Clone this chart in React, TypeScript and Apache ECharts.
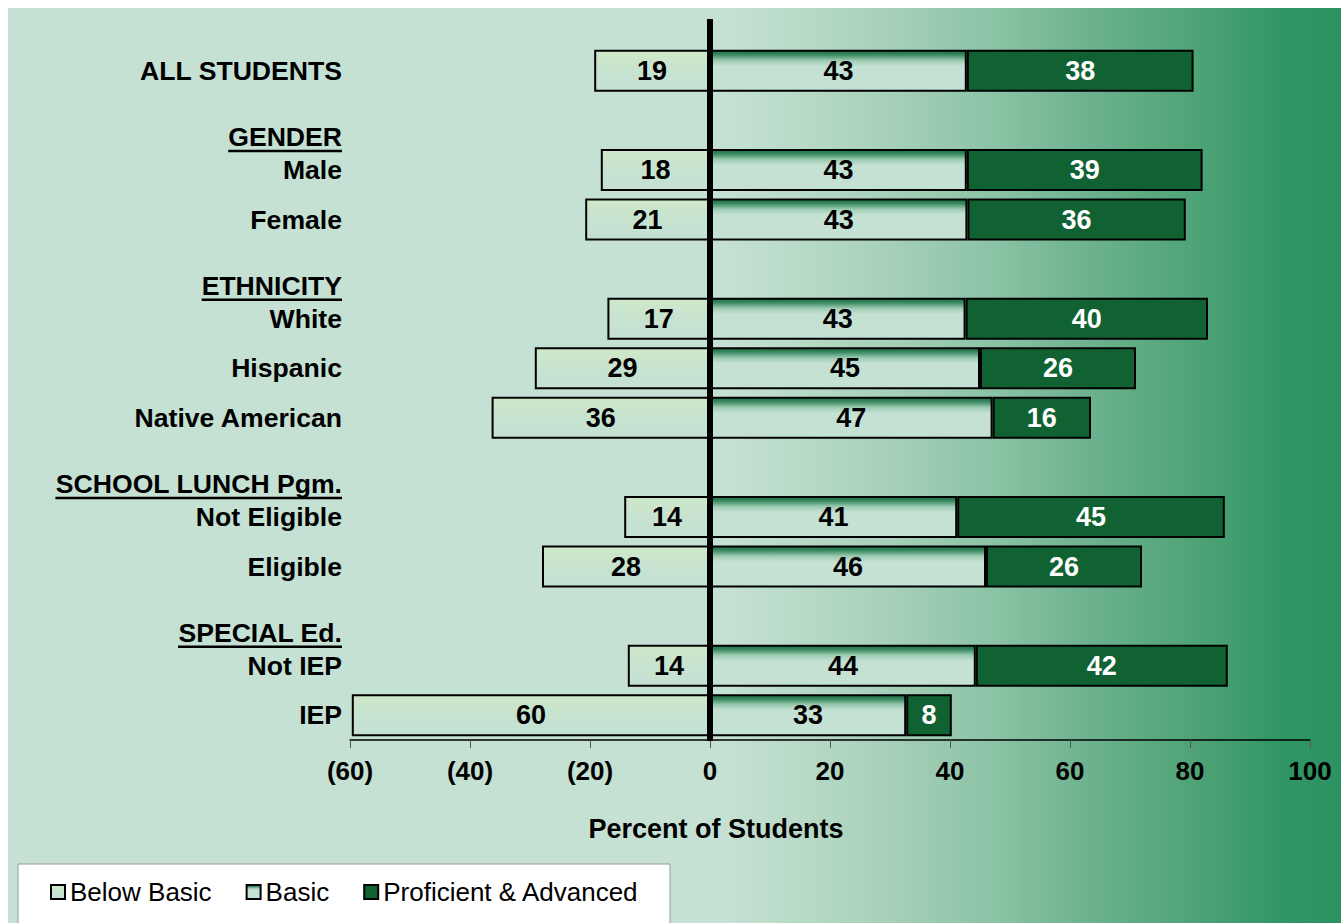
import React, { useEffect, useRef } from "react";
import * as echarts from "echarts";

const categories = [
  "ALL STUDENTS",
  "GENDER",
  "Male",
  "Female",
  "ETHNICITY",
  "White",
  "Hispanic",
  "Native American",
  "SCHOOL LUNCH Pgm.",
  "Not Eligible",
  "Eligible",
  "SPECIAL Ed.",
  "Not IEP",
  "IEP",
];
const headers = ["GENDER", "ETHNICITY", "SCHOOL LUNCH Pgm.", "SPECIAL Ed."];

// Below Basic drawn to the left of zero (negative values)
const belowBasic = [-19.3, null, -18.2, -20.8, null, -17.1, -29.2, -36.4, null, -14.3, -28.0, null, -13.7, -59.7];
const basic = [42.8, null, 42.8, 42.9, null, 42.6, 45.0, 47.1, null, 41.2, 46.0, null, 44.3, 32.7];
const proficient = [37.8, null, 39.3, 36.4, null, 40.4, 26.0, 16.4, null, 44.6, 26.0, null, 42.0, 7.6];

const xMin = -60;
const xMax = 100;
const xInterval = 20;

const FONT = "'Liberation Sans', Arial, Helvetica, sans-serif";
const W = 1333;
const H = 915;
const GRID = { left: 342, right: 31, top: 38, bottom: 183 };
const FS = 27;
const CAT_FS = 26.6;

export default function App() {
  const ref = useRef<HTMLDivElement>(null);

  useEffect(() => {
    if (!ref.current) return;
    const chart = echarts.init(ref.current, null, { renderer: "svg" });

    const labelFmt = (p: any) =>
      p.value == null || p.value === "-" ? "" : String(Math.round(Math.abs(p.value)));

    const option: any = {
      animation: false,
      backgroundColor: "transparent",
      grid: { ...GRID, containLabel: false },
      legend: {
        left: 10,
        top: 856,
        orient: "horizontal",
        backgroundColor: "#ffffff",
        borderColor: "#9a9a9a",
        borderWidth: 1,
        padding: [15, 31, 40, 32],
        itemWidth: 14,
        itemHeight: 14,
        itemGap: 34,
        icon: "rect",
        textStyle: { fontSize: 26, color: "#000", fontFamily: FONT },
        data: ["Below Basic", "Basic", "Proficient & Advanced"],
      },
      xAxis: {
        type: "value",
        min: xMin,
        max: xMax,
        interval: xInterval,
        name: "Percent of Students",
        nameLocation: "middle",
        nameGap: 75,
        nameTextStyle: {
          fontSize: FS,
          fontWeight: "bold",
          color: "#000",
          fontFamily: FONT,
          padding: [0, 228, 0, 0],
        },
        axisLine: { show: true, onZero: false, lineStyle: { color: "#000", width: 1.5 } },
        axisTick: { show: true, length: 8, lineStyle: { color: "#555", width: 1 } },
        splitLine: { show: false },
        axisLabel: {
          margin: 18,
          fontSize: 26,
          fontWeight: "bold",
          color: "#000",
          fontFamily: FONT,
          formatter: (v: number) => (v < 0 ? `(${-v})` : String(v)),
        },
      },
      yAxis: {
        type: "category",
        data: categories,
        inverse: true,
        axisLine: { show: false },
        axisTick: { show: false },
        splitLine: { show: false },
        axisLabel: {
          interval: 0,
          margin: 8,
          formatter: (v: string) => (headers.includes(v) ? `{h|${v}}` : `{c|${v}}`),
          rich: {
            c: { fontSize: CAT_FS, fontWeight: "bold", color: "#000", fontFamily: FONT },
            h: { fontSize: CAT_FS, fontWeight: "bold", color: "#000", fontFamily: FONT, padding: [34, 0, 0, 0] },
          },
        },
      },
      series: [
        {
          name: "Below Basic",
          type: "bar",
          stack: "total",
          barWidth: 42,
          data: belowBasic,
          itemStyle: {
            color: new echarts.graphic.LinearGradient(0, 0, 0, 1, [
              { offset: 0, color: "#cfe8c8" },
              { offset: 0.5, color: "#c7e3d0" },
              { offset: 1, color: "#c4e0d4" },
            ]),
            borderColor: "#000",
            borderWidth: 2,
          },
          label: {
            show: true,
            position: "inside",
            formatter: labelFmt,
            fontSize: FS,
            fontWeight: "bold",
            color: "#000",
            fontFamily: FONT,
          },
        },
        {
          name: "Basic",
          type: "bar",
          stack: "total",
          barWidth: 42,
          data: basic,
          itemStyle: {
            color: new echarts.graphic.LinearGradient(0, 0, 0, 1, [
              { offset: 0, color: "#1d6e45" },
              { offset: 0.1, color: "#3a8a61" },
              { offset: 0.24, color: "#9bcab1" },
              { offset: 0.38, color: "#c5e1d4" },
              { offset: 1, color: "#c5e1d4" },
            ]),
            borderColor: "#000",
            borderWidth: 2,
          },
          label: {
            show: true,
            position: "inside",
            formatter: labelFmt,
            fontSize: FS,
            fontWeight: "bold",
            color: "#000",
            fontFamily: FONT,
          },
        },
        {
          name: "Proficient & Advanced",
          type: "bar",
          stack: "total",
          barWidth: 42,
          data: proficient,
          itemStyle: { color: "#116233", borderColor: "#000", borderWidth: 2 },
          label: {
            show: true,
            position: "inside",
            formatter: labelFmt,
            fontSize: FS,
            fontWeight: "bold",
            color: "#fff",
            fontFamily: FONT,
          },
        },
      ],
    };

    chart.setOption(option);

    // Additional drawn elements derived from the axes
    const canvas = document.createElement("canvas");
    const ctx = canvas.getContext("2d");
    if (ctx) ctx.font = `bold ${CAT_FS}px ${FONT}`;
    const zeroX = chart.convertToPixel({ xAxisIndex: 0 }, 0) as number;
    const gridBottomY = H - GRID.bottom;
    const labelRight = GRID.left - 8;

    const graphics: any[] = [
      {
        type: "line",
        z: 100,
        shape: { x1: zeroX, y1: 11, x2: zeroX, y2: gridBottomY + 1 },
        style: { stroke: "#000", lineWidth: 6 },
      },
    ];
    headers.forEach((h) => {
      const cy = chart.convertToPixel({ yAxisIndex: 0 }, h) as number;
      const w = ctx ? ctx.measureText(h).width : h.length * 16;
      graphics.push({
        type: "rect",
        z: 100,
        shape: { x: labelRight - w, y: cy + 17 + 12.5, width: w, height: 2.5 },
        style: { fill: "#000" },
      });
    });
    chart.setOption({ graphic: graphics });

    return () => chart.dispose();
  }, []);

  return (
    <div
      ref={ref}
      style={{
        position: "fixed",
        left: 8,
        top: 8,
        width: W,
        height: H,
        background:
          "linear-gradient(to right, #c5e1d3 0%, #c5e1d3 54%, #b8dac7 59.5%, #a5cfb8 66.5%, #8bc3a5 74%, #6bb18d 81.5%, #4fa377 89%, #2f9564 96%, #2c9362 100%)",
      }}
    />
  );
}
